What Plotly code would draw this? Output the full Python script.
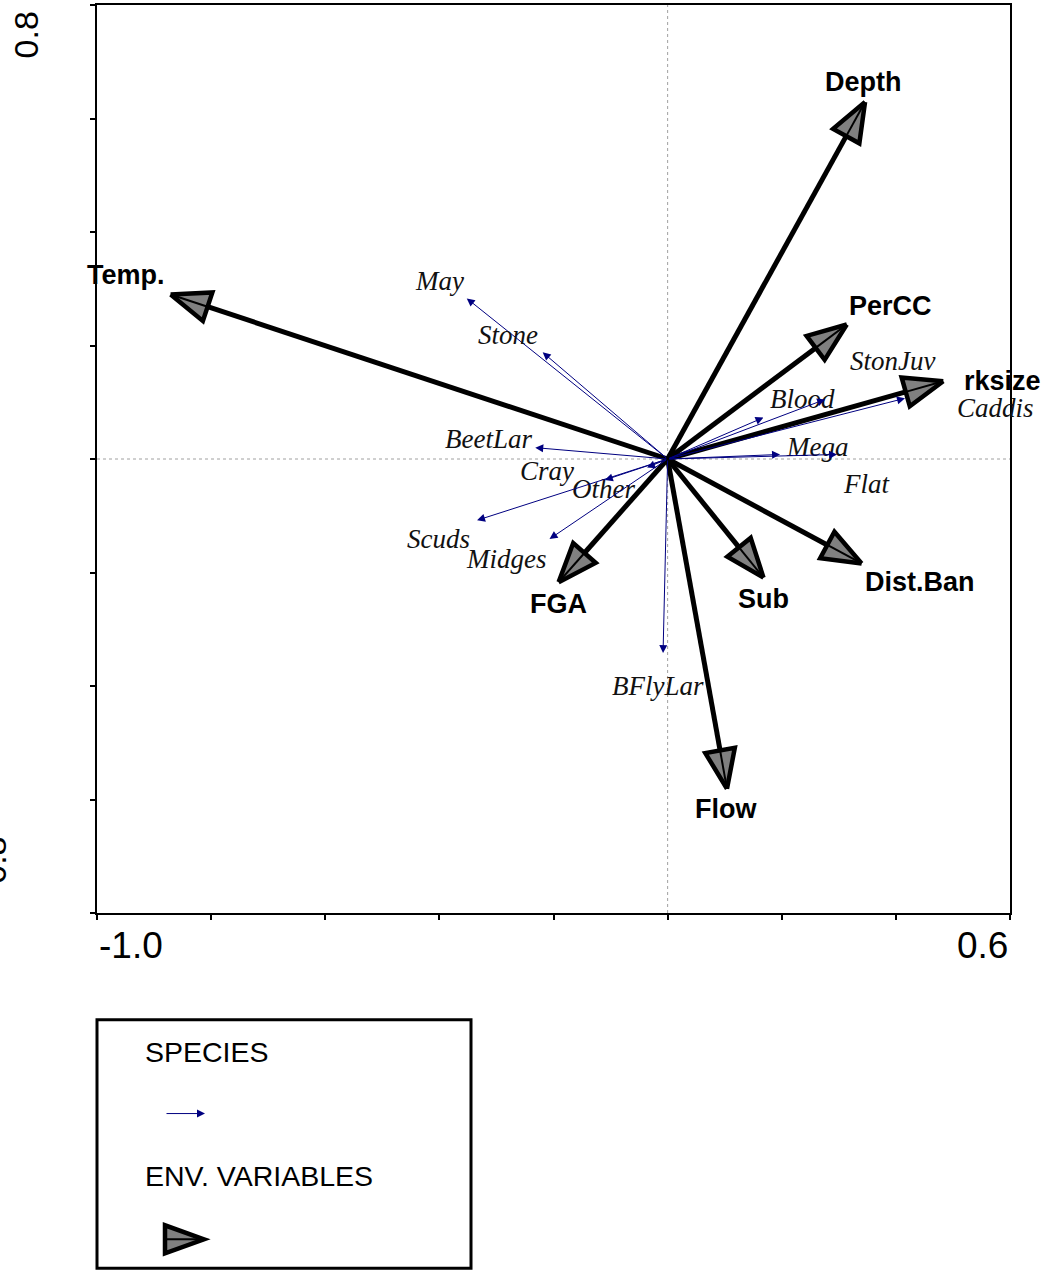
import math
import plotly.graph_objects as go

# ---------------- data ----------------
species_names = ["May", "Stone", "BeetLar", "Cray", "Other", "Scuds", "Midges",
                 "BFlyLar", "Blood", "StonJuv", "Caddis", "Mega", "Flat"]
species_x = [-0.352, -0.219, -0.232, -0.110, -0.036, -0.334, -0.207,
             -0.008, 0.168, 0.276, 0.416, 0.197, 0.297]
species_y = [0.283, 0.188, 0.020, -0.037, -0.015, -0.108, -0.141,
             -0.342, 0.073, 0.105, 0.107, 0.008, 0.008]

env_names = ["Depth", "Temp.", "PerCC", "rksize", "Dist.Ban", "Sub", "Flow", "FGA"]
env_x = [0.346, -0.871, 0.314, 0.483, 0.340, 0.168, 0.104, -0.191]
env_y = [0.629, 0.290, 0.237, 0.137, -0.184, -0.209, -0.581, -0.217]

x_range = [-1.0, 0.6]
y_range = [-0.8, 0.8]
x_tick_vals = [-1.0, -0.8, -0.6, -0.4, -0.2, 0.0, 0.2, 0.4, 0.6]
y_tick_vals = [-0.8, -0.6, -0.4, -0.2, 0.0, 0.2, 0.4, 0.6, 0.8]

# ---------------- layout constants ----------------
W, H = 1043, 1272
ML, MR, MT, MB = 97, 33, 3, 359
PW, PH = W - ML - MR, H - MT - MB
SX = PW / (x_range[1] - x_range[0])
SY = PH / (y_range[1] - y_range[0])

# label offsets in pixels (dx right, dy down) from arrow tip
species_label_off = {
    "May": (-27, -17), "Stone": (-35, -17), "BeetLar": (-47, -9),
    "Cray": (-58, -9), "Other": (-44, 21), "Scuds": (-39, 19),
    "Midges": (-44, 20), "BFlyLar": (-5, 33), "Blood": (39, -19),
    "StonJuv": (67, -38), "Caddis": (90, 10), "Mega": (37, -7), "Flat": (29, 30),
}
env_label_off = {
    "Depth": (-2, -20), "Temp.": (-45, -19), "PerCC": (44, -19), "rksize": (59, 0),
    "Dist.Ban": (58, 19), "Sub": (0, 21), "Flow": (-1, 20), "FGA": (0, 22),
}

NAVY = "#000080"
GRAY = "#808080"
HEAD_L, HEAD_W = 39, 15  # px


def px2paper(X, Y):
    return (X - ML) / PW, (MT + PH - Y) / PH


fig = go.Figure()

# zero lines (dotted gray)
fig.add_shape(type="line", xref="x", yref="paper", x0=0, x1=0, y0=0, y1=1,
              line=dict(color="#a0a0a0", width=1, dash="dot"), layer="below")
fig.add_shape(type="line", xref="paper", yref="y", x0=0, x1=1, y0=0, y1=0,
              line=dict(color="#a0a0a0", width=1, dash="dot"), layer="below")

# species arrows
annotations = []
for name, x, y in zip(species_names, species_x, species_y):
    annotations.append(dict(
        x=x, y=y, ax=0, ay=0, xref="x", yref="y", axref="x", ayref="y",
        text="", showarrow=True, arrowhead=2, arrowsize=1.6, arrowwidth=1,
        arrowcolor=NAVY, standoff=0, startstandoff=0))
    dx, dy = species_label_off[name]
    annotations.append(dict(
        x=x, y=y, xref="x", yref="y", text=f"<i>{name}</i>", showarrow=False,
        xshift=dx, yshift=-dy, xanchor="center", yanchor="middle",
        font=dict(family="Liberation Serif, Times New Roman, serif", size=27, color="#111111")))

# environmental arrows
for name, x, y in zip(env_names, env_x, env_y):
    px, py = x * SX, y * SY
    d = math.hypot(px, py)
    ux, uy = px / d, py / d
    bx, by = px - HEAD_L * ux, py - HEAD_L * uy
    nx, ny = -uy, ux
    hx = [px, bx + HEAD_W * nx, bx - HEAD_W * nx, px]
    hy = [py, by + HEAD_W * ny, by - HEAD_W * ny, py]
    # shaft
    fig.add_trace(go.Scatter(x=[0, bx / SX], y=[0, by / SY], mode="lines",
                             line=dict(color="black", width=5), hoverinfo="skip",
                             showlegend=False))
    # head
    fig.add_trace(go.Scatter(x=[v / SX for v in hx], y=[v / SY for v in hy], mode="lines",
                             fill="toself", fillcolor=GRAY,
                             line=dict(color="black", width=4.5), hoverinfo="skip",
                             showlegend=False))
    fig.add_trace(go.Scatter(x=[bx / SX, x], y=[by / SY, y], mode="lines",
                             line=dict(color="black", width=2), hoverinfo="skip",
                             showlegend=False))
    dx, dy = env_label_off[name]
    annotations.append(dict(
        x=x, y=y, xref="x", yref="y", text=f"<b>{name}</b>", showarrow=False,
        xshift=dx, yshift=-dy, xanchor="center", yanchor="middle",
        font=dict(family="Liberation Sans, Arial, sans-serif", size=27, color="black")))

# axis end labels
tick_font = dict(family="Liberation Sans, Arial, sans-serif", size=37, color="black")
rot_font = dict(family="Liberation Sans, Arial, sans-serif", size=34, color="black")
annotations.append(dict(x=x_range[0], y=px2paper(0, 946)[1], xref="x", yref="paper",
                        text="-1.0", showarrow=False, xanchor="left", yanchor="middle",
                        font=tick_font))
annotations.append(dict(x=x_range[1], y=px2paper(0, 946)[1], xref="x", yref="paper",
                        text="0.6", showarrow=False, xanchor="right", yanchor="middle",
                        font=tick_font))
p = px2paper(26, 33.5)
annotations.append(dict(x=p[0], y=p[1], xref="paper", yref="paper", text="0.8",
                        showarrow=False, textangle=-90, xanchor="center", yanchor="middle",
                        font=rot_font))
p = px2paper(-6, 866)
annotations.append(dict(x=p[0], y=p[1], xref="paper", yref="paper", text="-0.8",
                        showarrow=False, textangle=-90, xanchor="center", yanchor="middle",
                        font=rot_font))

# legend box
x0, y0 = px2paper(97, 1020)
x1, y1 = px2paper(471, 1269)
fig.add_shape(type="rect", xref="paper", yref="paper", x0=x0, y0=y0, x1=x1, y1=y1,
              line=dict(color="black", width=3), fillcolor="white")
leg_font = dict(family="Liberation Sans, Arial, sans-serif", size=28.5, color="black")
p = px2paper(143, 1052)
annotations.append(dict(x=p[0], y=p[1], xref="paper", yref="paper", text="SPECIES",
                        showarrow=False, xanchor="left", yanchor="middle", font=leg_font))
p = px2paper(143, 1177)
annotations.append(dict(x=p[0], y=p[1], xref="paper", yref="paper", text="ENV. VARIABLES",
                        showarrow=False, xanchor="left", yanchor="middle", font=leg_font))
p = px2paper(205, 1114)
annotations.append(dict(x=p[0], y=p[1], xref="paper", yref="paper", text="",
                        showarrow=True, ax=-40, ay=0, arrowhead=2, arrowsize=1.6,
                        arrowwidth=1, arrowcolor=NAVY, standoff=0))
# legend env arrow (triangle)
tip = px2paper(204, 1240)
c1 = px2paper(165, 1226)
c2 = px2paper(165, 1254)
bm = px2paper(165, 1240)
fig.add_shape(type="path", xref="paper", yref="paper",
              path=f"M {tip[0]} {tip[1]} L {c1[0]} {c1[1]} L {c2[0]} {c2[1]} Z",
              fillcolor=GRAY, line=dict(color="black", width=4.5))
fig.add_shape(type="line", xref="paper", yref="paper", x0=bm[0], y0=bm[1], x1=tip[0], y1=tip[1],
              line=dict(color="black", width=2))

fig.update_layout(
    width=W, height=H,
    margin=dict(l=ML, r=MR, t=MT, b=MB, pad=0),
    paper_bgcolor="white", plot_bgcolor="white",
    showlegend=False,
    annotations=annotations,
    xaxis=dict(range=x_range, showgrid=False, zeroline=False, showline=True, mirror=True,
               linecolor="black", linewidth=2, ticks="outside", ticklen=5, tickwidth=1.5,
               tickcolor="black", tickvals=x_tick_vals, showticklabels=False, fixedrange=True),
    yaxis=dict(range=y_range, showgrid=False, zeroline=False, showline=True, mirror=True,
               linecolor="black", linewidth=2, ticks="outside", ticklen=5, tickwidth=1.5,
               tickcolor="black", tickvals=y_tick_vals, showticklabels=False, fixedrange=True),
)

fig.write_html("out.html", config={"displayModeBar": False},
               post_script="document.body.style.margin='0';document.body.style.overflow='hidden';")
